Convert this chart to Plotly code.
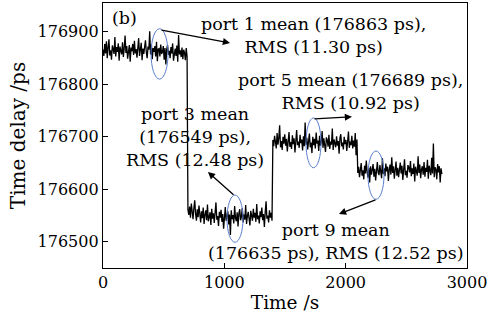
import plotly.graph_objects as go

# ---- data ----
port_means = [176863, 176549, 176689, 176635]
seg_duration = 700  # s per port
port1_dev = [3, -9, 14, -4, 19, -13, 7, 23, -8, 2, -16, 11, 4, -5, 27, -10, 8, -1, 15, -18, 9, 1, -6, 17, -11, 6, 30, -3, 10, -14, 3, 12, -20, 7, 0, 14, -7, 20, -4, 4, -12, 8, 25, -9, 2, 16, -17, 5, -5, 11, 21, -2, -13, 9, 3, 38, -6, 13, -15, 6, -1, 10, -10, 18, -19, 4, 5, -10, 13, -5, -1, 10, -16, 6, -25, 3, 12, -7, 1, -13, 8, -4, 15, -18, 0, 5, -9, 11, -20, 31, -6, 2, -11, 7, -15, 3, -3, -17, 6, -10]
port3_dev = [12, 2, 18, -3, 24, 8, -6, 15, 30, 4, -9, 13, -2, 20, 6, -12, 9, -4, 16, -15, 3, 11, -8, 22, -10, 1, 7, -17, 14, -5, 5, -13, 10, 26, -7, 0, -19, 8, -3, 12, -11, 4, -24, 6, 17, -9, -2, 9, -16, 3, -36, 11, -6, 2, -14, 19, -4, -10, 7, -20, 5, 13, -8, -1, 15, -12, 3, -7, 21, -15, 0, 8, -5, -18, 10, 2, -9, 14, -3, 6, -11, 23, -6, 1, -14, 9, -2, 16, -8, 4, -21, 7, 28, -5, 1, -12, 11, -3, 6, -9]
port5_dev = [5, -7, 13, 2, -11, 18, -4, 9, 33, -9, 3, -14, 11, -2, 16, -6, 7, -17, 4, 20, -8, 1, -12, 14, -3, 8, -19, 10, 24, -5, 2, -10, 15, -1, 6, -15, 12, -7, 38, -4, 9, -13, 3, 17, -9, 0, -20, 11, -5, 7, -11, 19, -2, 4, -16, 13, -6, 1, 22, -10, 8, -3, -18, 10, 5, -8, 15, -12, 2, -4, 27, -14, 6, -1, -9, 12, -6, 3, -21, 9, 16, -7, 0, -13, 11, -3, 5, -16, 8, 21, -10, 2, -5, 13, -11, 4, -8, 18, -24, 6]
port9_dev = [-4, 8, -12, 3, 15, -9, 1, -16, 10, -5, 20, -2, -13, 6, -22, 9, -7, 2, 13, -11, 4, -18, 7, 17, -3, -8, 11, 0, -14, 24, -6, 5, -10, 14, -1, 8, -19, 3, 12, -7, 26, -4, 9, -15, 2, 18, -9, 6, -12, 1, 16, -5, 10, -17, 4, 22, -8, 0, -13, 11, 7, -3, 19, -10, 5, -6, 14, -20, 8, 2, -9, 28, -4, 12, -14, 3, 9, -7, 17, -11, 6, -2, 21, -15, 10, 1, -8, 25, -5, 52, -12, 7, 3, -16, 13, -3, 9, -22, 5, -6]
port_devs = [port1_dev, port3_dev, port5_dev, port9_dev]

# ellipse boxes [x0, x1, y0, y1]
ellipses = [
    [396, 536, 176810, 176906],
    [1022, 1154, 176499, 176589],
    [1673, 1797, 176641, 176736],
    [2184, 2316, 176581, 176673],
]
# arrows: tail (ax, ay) -> head (x, y)
arrows = [
    [470, 176904, 1047, 176879],
    [1088, 176587, 865, 176633],
    [1731, 176734, 2052, 176738],
    [2258, 176581, 1945, 176553],
]
labels = [
    "port 1 mean (176863 ps),<br>RMS (11.30 ps)",
    "port 3 mean<br>(176549 ps),<br>RMS (12.48 ps)",
    "port 5 mean (176689 ps),<br>RMS (10.92 ps)",
    "port 9 mean<br>(176635 ps), RMS (12.52 ps)",
]
label_pos = [[1731, 176893], [758, 176699], [2036, 176787], [1920, 176501]]

xticks = [0, 1000, 2000, 3000]
yticks = [176500, 176600, 176700, 176800, 176900]

# ---- build series ----
xs, ys = [], []
for k, (m, devs) in enumerate(zip(port_means, port_devs)):
    step = seg_duration / len(devs)
    for i, d in enumerate(devs):
        xs.append(k * seg_duration + i * step)
        ys.append(m + d)

FONT = "DejaVu Serif"
fig = go.Figure()
fig.add_trace(go.Scatter(x=xs, y=ys, mode="lines",
                         line=dict(color="black", width=1.3), showlegend=False))

for x0, x1, y0, y1 in ellipses:
    fig.add_shape(type="circle", xref="x", yref="y", x0=x0, x1=x1, y0=y0, y1=y1,
                  line=dict(color="#5b7fd0", width=1))

for ax, ay, hx, hy in arrows:
    fig.add_annotation(x=hx, y=hy, ax=ax, ay=ay, xref="x", yref="y",
                       axref="x", ayref="y", text="", showarrow=True,
                       arrowhead=2, arrowsize=1.1, arrowwidth=1.3, arrowcolor="black")

for txt, (lx, ly) in zip(labels, label_pos):
    fig.add_annotation(x=lx, y=ly, xref="x", yref="y", text=txt, showarrow=False,
                       xanchor="center", yanchor="middle", align="center",
                       font=dict(family=FONT, size=17.5, color="black"))

fig.add_annotation(x=181, y=176927, xref="x", yref="y", text="(b)", showarrow=False,
                   xanchor="center", yanchor="middle",
                   font=dict(family=FONT, size=17.5, color="black"))

axis_common = dict(showline=True, mirror=True, linecolor="black", linewidth=1.3,
                   ticks="inside", ticklen=5, tickcolor="black", tickwidth=1,
                   showgrid=False, zeroline=False,
                   tickfont=dict(family=FONT, size=16, color="black"))
fig.update_xaxes(range=[0, 3000], tickvals=xticks, tickformat="d",
                 title=dict(text="Time /s", font=dict(family=FONT, size=18.5, color="black"), standoff=4),
                 **axis_common)
fig.update_yaxes(range=[176450, 176955], tickvals=yticks, tickformat="d",
                 title=dict(text="Time delay /ps", font=dict(family=FONT, size=20, color="black"), standoff=6),
                 **axis_common)
fig.update_layout(width=496, height=323, margin=dict(l=103, r=29, t=3, b=55),
                  paper_bgcolor="white", plot_bgcolor="white", showlegend=False)
fig.write_html("out.html")
